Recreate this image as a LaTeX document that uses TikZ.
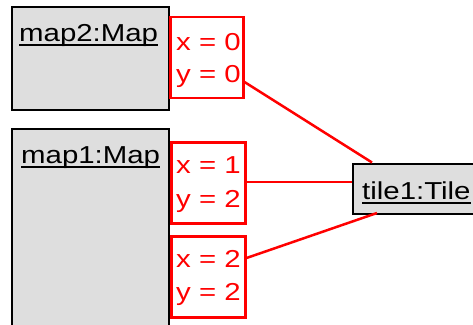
\documentclass[tikz,border=0pt]{standalone}
\usepackage{fontspec}
\setmainfont{Liberation Sans}
\usepackage{graphicx}
\definecolor{boxgray}{HTML}{DEDEDE}
\newcommand{\wtext}[1]{\scalebox{1.2}[1]{#1}}
\begin{document}
\begin{tikzpicture}[x=1pt,y=-1pt,
  objbox/.style={draw=black, line width=2.5pt, fill=boxgray, inner sep=0pt, anchor=north west},
  tagbox/.style={draw=red, line width=2.5pt, inner sep=0pt, anchor=north west, minimum width=74pt, minimum height=81pt},
  txt/.style={inner sep=0pt, anchor=base west, font=\fontsize{24.5}{28}\selectfont},
  redtxt/.style={txt, text=red},
  uline/.style={black, line width=2pt},
  link/.style={red, line width=2.5pt}]
\useasboundingbox (0,0) rectangle (473,324);
\begin{scope}
\clip (0,0) rectangle (473,324);
% object boxes
\node[objbox, minimum width=157pt, minimum height=103pt] (map2) at (10.5,5.5) {};
\node[objbox, minimum width=157pt, minimum height=230pt] (map1) at (10.5,127.5) {};
\node[objbox, minimum width=140pt, minimum height=50pt] (tile) at (351.5,162.5) {};
% tag boxes
\node[tagbox, minimum width=73pt] (r1) at (169,15.5) {};
\node[tagbox] (r2) at (170,141) {};
\node[tagbox] (r3) at (170,235) {};
% labels
\node[txt] (m2lab) at (19,41) {\wtext{map2:Map}};
\draw[uline] ([yshift=-4pt]m2lab.base west) -- ([yshift=-4pt]m2lab.base east);
\node[txt] (m1lab) at (21,163) {\wtext{map1:Map}};
\draw[uline] ([yshift=-4pt]m1lab.base west) -- ([yshift=-4pt]m1lab.base east);
\node[txt] (tlab) at (362,199) {\wtext{tile1:Tile}};
\draw[uline] ([yshift=-4pt]tlab.base west) -- ([yshift=-4pt]tlab.base east);
% tag texts
\node[redtxt] (r1a) at (176,50) {\wtext{x = 0}};
\node[redtxt] (r1b) at (176,82) {\wtext{y = 0}};
\node[redtxt] (r2a) at (176,173) {\wtext{x = 1}};
\node[redtxt] (r2b) at (176,207) {\wtext{y = 2}};
\node[redtxt] (r3a) at (176,267) {\wtext{x = 2}};
\node[redtxt] (r3b) at (176,300) {\wtext{y = 2}};
% connectors
\coordinate (t1) at (372,162.5);
\coordinate (t3) at (377,213);
\draw[link] (r1.east |- 0,82) -- (t1);
\draw[link] (r2.east |- 0,182) -- (tile.west |- 0,182);
\draw[link] (r3.east |- 0,258) -- (t3);
\end{scope}
\end{tikzpicture}
\end{document}
